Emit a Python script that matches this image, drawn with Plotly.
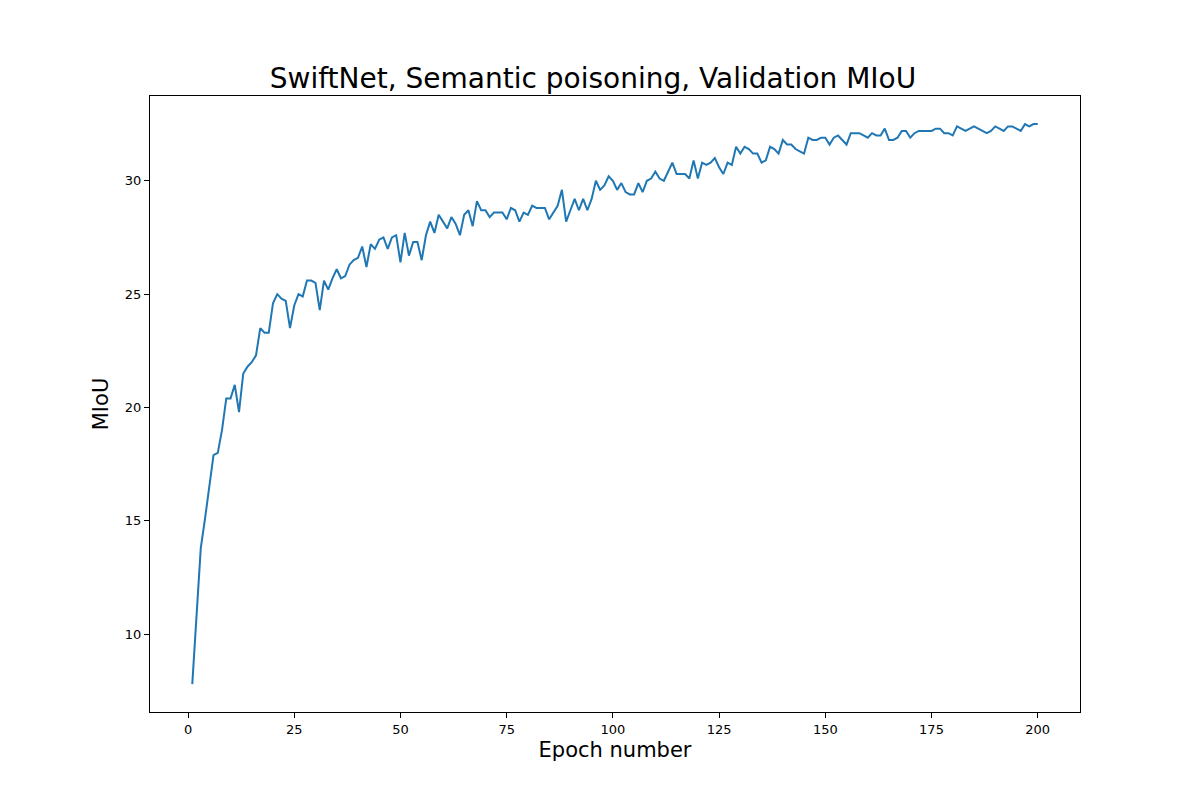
import plotly.graph_objects as go

# Validation MIoU por época
epochs = list(range(1, 201))
miou = [
    7.8, 10.9, 13.8, 15.1, 16.6, 17.9, 18.0, 19.0, 20.4, 20.4,
    21.0, 19.8, 21.5, 21.8, 22.0, 22.3, 23.5, 23.3, 23.3, 24.6,
    25.0, 24.8, 24.7, 23.5, 24.5, 25.0, 24.9, 25.6, 25.6, 25.5,
    24.3, 25.6, 25.2, 25.7, 26.1, 25.7, 25.8, 26.3, 26.5, 26.6,
    27.1, 26.2, 27.2, 27.0, 27.4, 27.5, 27.0, 27.5, 27.6, 26.4,
    27.7, 26.7, 27.3, 27.3, 26.5, 27.6, 28.2, 27.7, 28.5, 28.2,
    27.9, 28.4, 28.1, 27.6, 28.5, 28.7, 28.0, 29.1, 28.7, 28.7,
    28.4, 28.6, 28.6, 28.6, 28.3, 28.8, 28.7, 28.2, 28.6, 28.5,
    28.9, 28.8, 28.8, 28.8, 28.3, 28.6, 28.9, 29.6, 28.2, 28.7,
    29.2, 28.7, 29.2, 28.7, 29.2, 30.0, 29.6, 29.8, 30.2, 30.0,
    29.6, 29.9, 29.5, 29.4, 29.4, 29.9, 29.5, 30.0, 30.1, 30.4,
    30.1, 30.0, 30.4, 30.8, 30.3, 30.3, 30.3, 30.1, 30.9, 30.1,
    30.8, 30.7, 30.8, 31.0, 30.6, 30.3, 30.8, 30.7, 31.5, 31.2,
    31.5, 31.4, 31.2, 31.2, 30.8, 30.9, 31.5, 31.4, 31.2, 31.8,
    31.6, 31.6, 31.4, 31.3, 31.2, 31.9, 31.8, 31.8, 31.9, 31.9,
    31.6, 31.9, 32.0, 31.8, 31.6, 32.1, 32.1, 32.1, 32.0, 31.9,
    32.1, 32.0, 32.0, 32.3, 31.8, 31.8, 31.9, 32.2, 32.2, 31.9,
    32.1, 32.2, 32.2, 32.2, 32.2, 32.3, 32.3, 32.1, 32.1, 32.0,
    32.4, 32.3, 32.2, 32.3, 32.4, 32.3, 32.2, 32.1, 32.2, 32.4,
    32.3, 32.2, 32.4, 32.4, 32.3, 32.2, 32.5, 32.4, 32.5, 32.5,
]

x_ticks = [0, 25, 50, 75, 100, 125, 150, 175, 200]
y_ticks = [10, 15, 20, 25, 30]

fig = go.Figure()
fig.add_trace(go.Scatter(x=epochs, y=miou, mode='lines',
                         line=dict(color='#1f77b4', width=2)))

ax = dict(showgrid=False, zeroline=False, showline=True, mirror=True,
          linecolor='black', linewidth=1, ticks='outside', ticklen=5,
          tickcolor='black', tickfont=dict(size=13, color='black'))
fig.update_xaxes(**ax, range=[-8.95, 209.95], tickvals=x_ticks,
                 title=dict(text='Epoch number', font=dict(size=21, color='black'), standoff=6))
fig.update_yaxes(**ax, range=[6.57, 33.74], tickvals=y_ticks,
                 title=dict(text='MIoU', font=dict(size=21, color='black'), standoff=10))
fig.update_layout(
    width=1200, height=800,
    margin=dict(l=142, r=128, t=88, b=96),
    plot_bgcolor='white', paper_bgcolor='white',
    font=dict(family='DejaVu Sans'),
    showlegend=False,
    title=dict(text='SwiftNet, Semantic poisoning, Validation MIoU',
               x=0.4875, xanchor='center', y=0.9, yanchor='bottom',
               font=dict(size=28, color='black')),
)
fig.write_html("out.html")
